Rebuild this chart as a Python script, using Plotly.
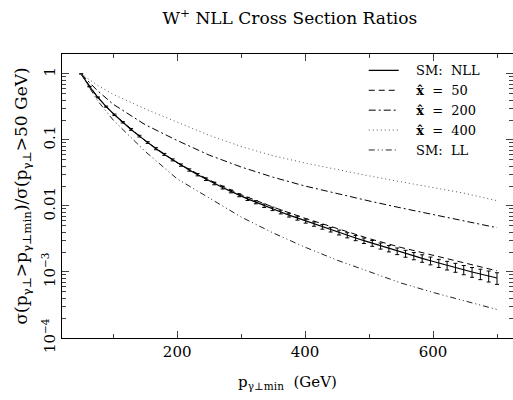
import plotly.graph_objects as go

# NLL points (with error bars), every 13 GeV
nll_x = [50, 63, 76, 89, 102, 115, 128, 141, 154, 167, 180, 193, 206, 219, 232, 245, 258,
         271, 284, 297, 310, 323, 336, 349, 362, 375, 388, 401, 414, 427, 440, 453, 466,
         479, 492, 505, 518, 531, 544, 557, 570, 583, 596, 609, 622, 635, 648, 661, 674,
         687, 700]
nll_y = [1.0, 0.641, 0.441, 0.319, 0.240, 0.185, 0.144, 0.114, 0.0912, 0.0736, 0.0603,
         0.0498, 0.0416, 0.0350, 0.0297, 0.0254, 0.0219, 0.0190, 0.0166, 0.0145, 0.0128,
         0.0114, 0.0101, 0.00904, 0.00809, 0.00726, 0.00655, 0.00590, 0.00533, 0.00483,
         0.00438, 0.00397, 0.00361, 0.00327, 0.00298, 0.00272, 0.00248, 0.00226, 0.00207,
         0.00190, 0.00175, 0.00161, 0.00148, 0.00136, 0.00126, 0.00117, 0.00108, 0.00100,
         0.000933, 0.000869, 0.000811]
nll_err_pct = [0, 1, 1.5, 2, 2.5, 2.5, 3, 3, 3, 3.5, 3.5, 3.5, 4, 4, 4, 4.5, 4.5, 5, 5, 5,
               5.5, 5.5, 6, 6, 6.5, 6.5, 7, 7, 7.5, 8, 8, 8.5, 9, 9, 9.5, 10, 10.5, 11,
               11.5, 12, 12.5, 13, 13.5, 14, 15, 15.5, 16, 17, 18, 19, 20]

# other curves
pt = [50, 75, 100, 150, 200, 250, 300, 350, 400, 450, 500, 550, 600, 650, 700]
x50_y = [1.0, 0.452, 0.25, 0.097, 0.045, 0.0248, 0.0148, 0.0096, 0.0065, 0.0046, 0.0032,
         0.00235, 0.00179, 0.00137, 0.00104]
x200_y = [1.0, 0.562, 0.347, 0.17, 0.098, 0.0589, 0.0389, 0.0272, 0.020, 0.0153, 0.0119,
          0.00933, 0.00741, 0.00589, 0.00468]
x400_y = [1.0, 0.676, 0.49, 0.295, 0.186, 0.1175, 0.0794, 0.0575, 0.0447, 0.0355, 0.0285,
          0.0232, 0.0191, 0.0155, 0.012]
ll_y = [1.0, 0.40, 0.20, 0.067, 0.0257, 0.0132, 0.0068, 0.0039, 0.00237, 0.00151, 0.0010,
        0.00068, 0.00049, 0.00036, 0.00027]

y_tickvals = [1e-4, 1e-3, 0.01, 0.1, 1]
y_ticktext = ["10<sup>\u22124</sup>", "10<sup>\u22123</sup>", "0.01", "0.1", "1"]
x_tickvals = [200, 400, 600]

FONT = "DejaVu Serif"
PAD = "\u00a0\u00a0\u00a0"
nll_err = [y * p / 100 for y, p in zip(nll_y, nll_err_pct)]

fig = go.Figure()
fig.add_trace(go.Scatter(x=nll_x, y=nll_y, mode="lines", name=PAD + "SM:  NLL",
                         line=dict(color="black", width=1.2),
                         error_y=dict(type="data", array=nll_err, color="black",
                                      thickness=1, width=2)))
fig.add_trace(go.Scatter(x=pt, y=x50_y, mode="lines", name=PAD + "<b>x\u0302</b>  =  50",
                         line=dict(color="black", width=1, dash="6px,4px")))
fig.add_trace(go.Scatter(x=pt, y=x200_y, mode="lines", name=PAD + "<b>x\u0302</b>  =  200",
                         line=dict(color="black", width=1, dash="7px,3px,2px,3px")))
fig.add_trace(go.Scatter(x=pt, y=x400_y, mode="lines", name=PAD + "<b>x\u0302</b>  =  400",
                         line=dict(color="#555", width=1, dash="1px,3px")))
fig.add_trace(go.Scatter(x=pt, y=ll_y, mode="lines", name=PAD + "SM:  LL",
                         line=dict(color="#222", width=1, dash="6px,3px,1px,3px,1px,3px")))

fig.update_layout(
    width=513, height=400,
    margin=dict(l=62, r=0, t=54, b=62),
    paper_bgcolor="white", plot_bgcolor="white",
    font=dict(family=FONT, color="black", size=14),
    title=dict(text="W<sup>+</sup> NLL Cross Section Ratios", x=0.565, xanchor="center",
               xref="container", y=0.955, yanchor="middle", yref="container",
               font=dict(family=FONT, size=17)),
    showlegend=True,
    legend=dict(x=0.669, y=0.995, xanchor="left", yanchor="top", bgcolor="rgba(0,0,0,0)",
                font=dict(family=FONT, size=13), itemwidth=30),
    xaxis=dict(range=[20, 725], tickvals=x_tickvals, ticks="inside", ticklen=7,
               showgrid=False, zeroline=False, showline=True, linecolor="black",
               linewidth=1, mirror="allticks", tickfont=dict(size=15),
               minor=dict(dtick=100, tick0=0, ticks="inside", ticklen=4, showgrid=False),
               title=dict(text="p<sub>\u03b3\u22a5min</sub>  (GeV)", standoff=16,
                          font=dict(size=15))),
    yaxis=dict(type="log", range=[-4, 0.301], tickvals=y_tickvals, ticktext=y_ticktext,
               ticks="inside", ticklen=7, tickangle=-90, showgrid=False, zeroline=False,
               showline=True, linecolor="black", linewidth=1, mirror="allticks",
               tickfont=dict(size=15),
               minor=dict(dtick="D1", ticks="inside", ticklen=4, showgrid=False),
               title=dict(text="\u03c3(p<sub>\u03b3\u22a5</sub>>p<sub>\u03b3\u22a5min</sub>)/\u03c3(p<sub>\u03b3\u22a5</sub>>50 GeV)",
                          standoff=6, font=dict(size=17))),
)

fig.write_html("out.html", config={"displayModeBar": False},
               post_script="document.body.style.margin='0';")
